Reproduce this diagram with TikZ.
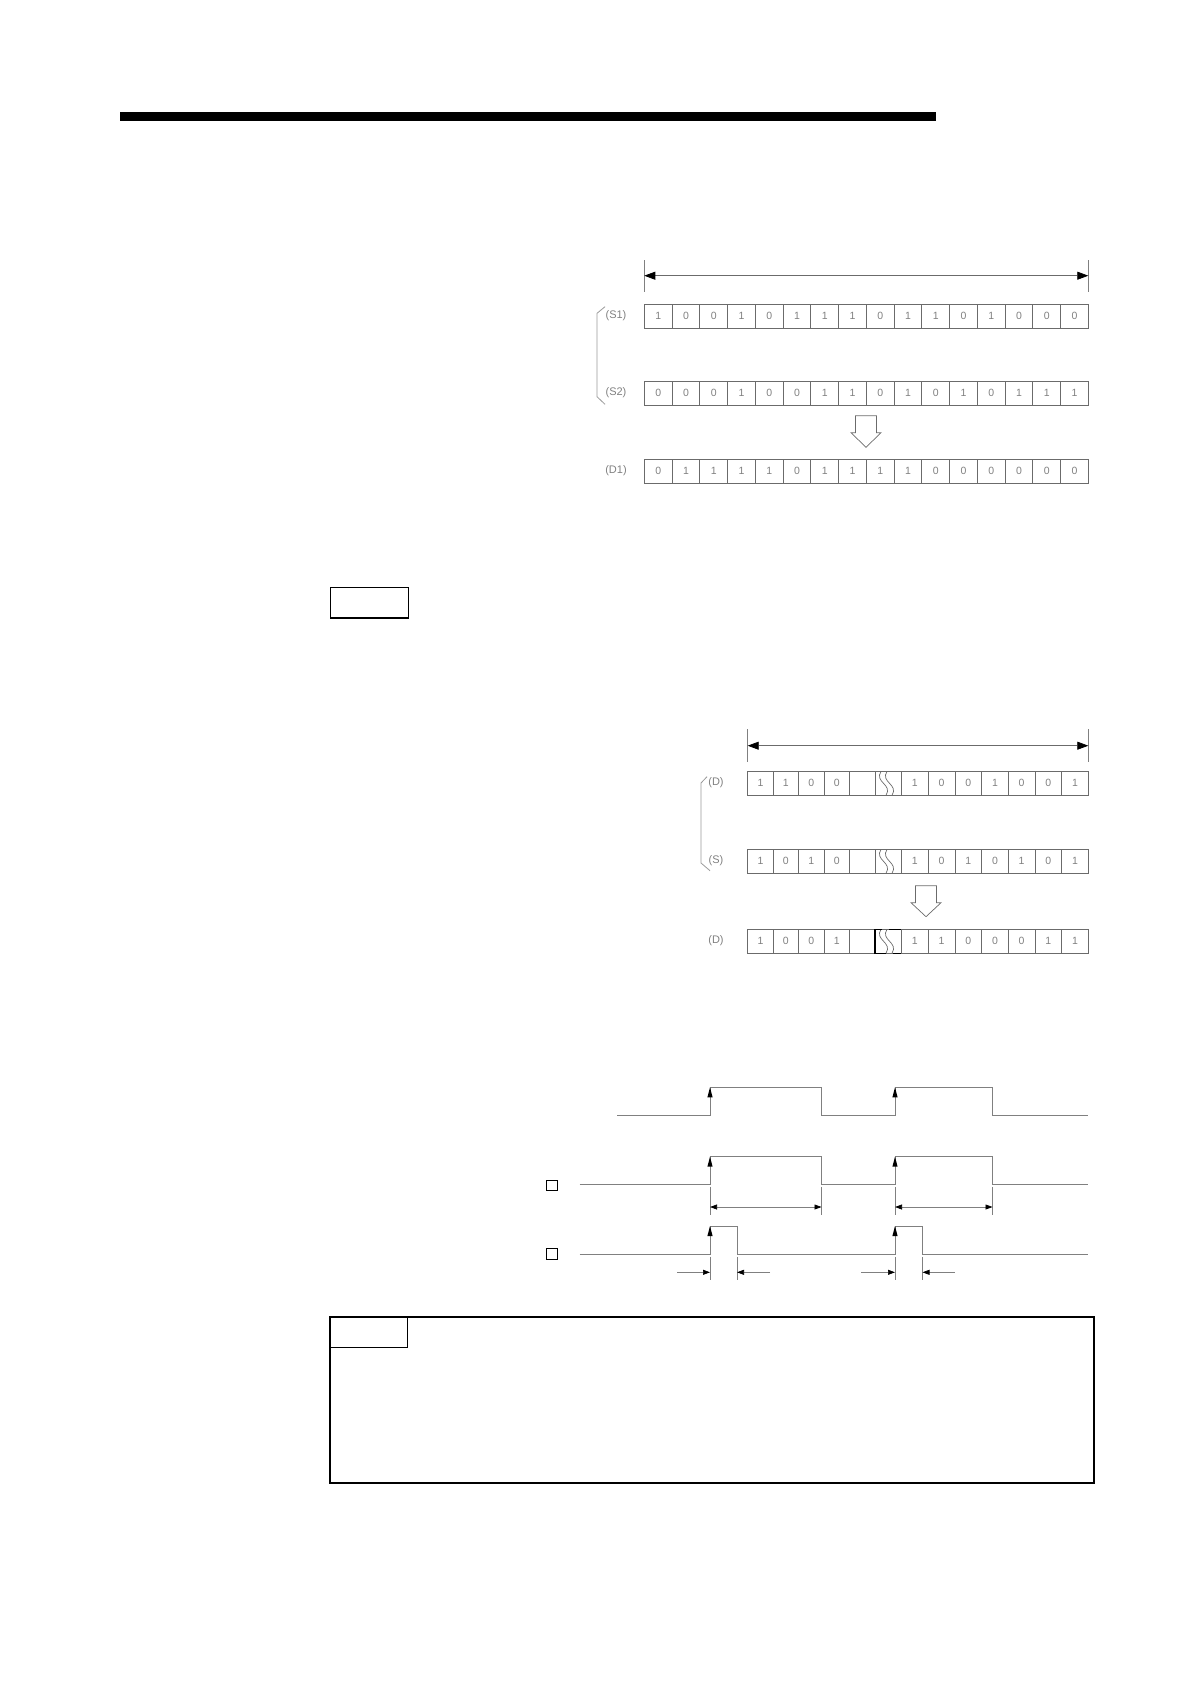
\documentclass[tikz,border=0pt]{standalone}
\usepackage{fontspec}
\setmainfont{Liberation Sans}
\usetikzlibrary{arrows.meta}
\definecolor{cellgray}{gray}{0.42}
\definecolor{txtgray}{gray}{0.5}
\definecolor{brgray}{gray}{0.6}
\definecolor{wavegray}{gray}{0.5}
\newcommand\brkwave[3]{%
  \draw[cellgray, line width=0.7pt] (#1+6,#2) .. controls (#1-1,#2+11) and (#1+18,#3-11) .. (#1+11,#3);
  \draw[cellgray, line width=0.7pt] (#1+12,#2) .. controls (#1+5,#2+11) and (#1+24,#3-11) .. (#1+17,#3);}
\begin{document}
\begin{tikzpicture}[x=1pt,y=-1pt,
  cellbox/.style={draw=cellgray, line width=0.7pt, minimum height=24pt, inner sep=0pt,
    font=\fontsize{10.5}{10.5}\selectfont, text=txtgray},
  rowlabel/.style={font=\fontsize{11}{11}\selectfont, text=txtgray, inner sep=0pt},
  bigdim/.style={line width=0.7pt, cellgray,
    {Triangle[length=11pt,width=8pt,black]}-{Triangle[length=11pt,width=8pt,black]}},
  smalldim/.style={line width=0.7pt, wavegray,
    {Triangle[length=7pt,width=5pt,black]}-{Triangle[length=7pt,width=5pt,black]}},
  onedim/.style={line width=0.7pt, wavegray, -{Triangle[length=7pt,width=5pt,black]}},
  tickline/.style={line width=0.7pt, wavegray},
  wave/.style={line width=0.9pt, wavegray},
  bracketline/.style={line width=0.8pt, brgray},
  hollowarrow/.style={line width=0.7pt, cellgray},
  framebox/.style={draw=black, inner sep=0pt},
]
\useasboundingbox (0,0) rectangle (1190,1684);
% top bar
\fill[black] (120,112) rectangle (936,121);

% ===== first diagram =====
\coordinate (a1l) at (644.3,275.7);
\coordinate (a1r) at (1088.3,275.7);
\draw[tickline] (644.3,260) -- (644.3,291.7);
\draw[tickline] (1088.3,260) -- (1088.3,291.7);
\draw[bigdim] (a1l) -- (a1r);

\foreach \v [count=\i from 0] in {1,0,0,1,0,1,1,1,0,1,1,0,1,0,0,0}
  \node[cellbox, minimum width=27.75pt] (sa-\i) at ({644.3+27.75*\i+13.875},316.3) {\v};
\foreach \v [count=\i from 0] in {0,0,0,1,0,0,1,1,0,1,0,1,0,1,1,1}
  \node[cellbox, minimum width=27.75pt] (sb-\i) at ({644.3+27.75*\i+13.875},393.2) {\v};
\foreach \v [count=\i from 0] in {0,1,1,1,1,0,1,1,1,1,0,0,0,0,0,0}
  \node[cellbox, minimum width=27.75pt] (da-\i) at ({644.3+27.75*\i+13.875},471.2) {\v};

\node[rowlabel] (ls1) at (616,315.5) {(S1)};
\node[rowlabel] (ls2) at (616,392.5) {(S2)};
\node[rowlabel] (ld1) at (616,470.5) {(D1)};
\draw[bracketline] (605,306.7) -- (597,313.3) -- (597,396.7) -- (605,404.3);

\draw[hollowarrow] (855.5,415.7) -- (876.5,415.7) -- (876.5,432.7) -- (881,432.7)
  -- (866,447.3) -- (851,432.7) -- (855.5,432.7) -- cycle;

% ===== header box =====
\node[framebox, line width=1.2pt, minimum width=77.6pt, minimum height=30.7pt] (hdr) at (369.5,602.6) {};

% ===== second diagram =====
\coordinate (a2l) at (747.7,745.7);
\coordinate (a2r) at (1088.3,745.7);
\draw[tickline] (747.7,729.3) -- (747.7,761.7);
\draw[tickline] (1088.3,729.3) -- (1088.3,761.7);
\draw[bigdim] (a2l) -- (a2r);

% row D
\foreach \v [count=\i from 0] in {1,1,0,0,{}}
  \node[cellbox, minimum width=25.46pt] (db-\i) at ({747.7+25.46*\i+12.73},783.3) {\v};
\node[cellbox, minimum width=26.5pt] (dbrk) at (888.25,783.3) {};
\brkwave{875}{771.3}{795.3}
\foreach \v [count=\i from 0] in {1,0,0,1,0,0,1}
  \node[cellbox, minimum width=26.69pt] (dc-\i) at ({901.5+26.69*\i+13.345},783.3) {\v};
% row S
\foreach \v [count=\i from 0] in {1,0,1,0,{}}
  \node[cellbox, minimum width=25.46pt] (sc-\i) at ({747.7+25.46*\i+12.73},861.3) {\v};
\node[cellbox, minimum width=26.5pt] (sbrk) at (888.25,861.3) {};
\brkwave{875}{849.3}{873.3}
\foreach \v [count=\i from 0] in {1,0,1,0,1,0,1}
  \node[cellbox, minimum width=26.69pt] (sd-\i) at ({901.5+26.69*\i+13.345},861.3) {\v};
% row D result
\foreach \v [count=\i from 0] in {1,0,0,1,{}}
  \node[cellbox, minimum width=25.46pt] (de-\i) at ({747.7+25.46*\i+12.73},941.2) {\v};
\node[cellbox, minimum width=26.5pt] (debrk) at (888.25,941.2) {};
\brkwave{875}{929.2}{953.2}
\draw[black, line width=1.1pt] (882,929.2) -- (875,929.2) -- (875,953.2) -- (886,953.2);
\draw[black, line width=1.1pt] (889,929.2) -- (901.5,929.2) -- (901.5,953.2) -- (893,953.2);
\foreach \v [count=\i from 0] in {1,1,0,0,0,1,1}
  \node[cellbox, minimum width=26.69pt] (df-\i) at ({901.5+26.69*\i+13.345},941.2) {\v};

\node[rowlabel] (ld) at (716,782.5) {(D)};
\node[rowlabel] (ls) at (716,860.5) {(S)};
\node[rowlabel] (ldr) at (716,940.5) {(D)};
\draw[bracketline] (707,776.7) -- (701,783) -- (701,863) -- (710,870.7);

\draw[hollowarrow] (915.5,885.7) -- (936.5,885.7) -- (936.5,902.7) -- (941,902.7)
  -- (926,916.7) -- (911,902.7) -- (915.5,902.7) -- cycle;

% ===== timing chart =====
% waveform 1
\draw[wave] (617,1115) -- (710,1115) -- (710,1087.3) -- (821.5,1087.3) -- (821.5,1115)
  -- (895,1115) -- (895,1087.3) -- (992.5,1087.3) -- (992.5,1115) -- (1088,1115);
% waveform 2
\draw[wave] (579.5,1184.3) -- (710,1184.3) -- (710,1156.7) -- (821.5,1156.7) -- (821.5,1184.3)
  -- (895,1184.3) -- (895,1156.7) -- (992.5,1156.7) -- (992.5,1184.3) -- (1088,1184.3);
% waveform 3
\draw[wave] (579.5,1254) -- (710,1254) -- (710,1226) -- (737,1226) -- (737,1254)
  -- (895,1254) -- (895,1226) -- (922.5,1226) -- (922.5,1254) -- (1088,1254);
% rising edge tips
\foreach \xx/\yy in {710/1087.3, 895/1087.3, 710/1156.7, 895/1156.7, 710/1226, 895/1226}
  \fill[black] (\xx,\yy) -- (\xx-2.6,\yy+10) -- (\xx+2.6,\yy+10) -- cycle;

% squares
\node[framebox, line width=1.1pt, minimum width=11pt, minimum height=10.5pt] (sq1) at (551.8,1185.6) {};
\node[framebox, line width=1.1pt, minimum width=11pt, minimum height=11pt] (sq2) at (551.8,1254.2) {};

% dims waveform 2
\draw[tickline] (710,1186.7) -- (710,1215);
\draw[tickline] (821.5,1186.7) -- (821.5,1215);
\draw[tickline] (895,1186.7) -- (895,1215);
\draw[tickline] (992.5,1186.7) -- (992.5,1215);
\coordinate (d2a) at (710,1207);
\coordinate (d2b) at (821.5,1207);
\coordinate (d2c) at (895,1207);
\coordinate (d2d) at (992.5,1207);
\draw[smalldim] (d2a) -- (d2b);
\draw[smalldim] (d2c) -- (d2d);

% dims waveform 3
\draw[tickline] (710,1256.7) -- (710,1280);
\draw[tickline] (737,1256.7) -- (737,1280);
\draw[tickline] (895,1256.7) -- (895,1280);
\draw[tickline] (922.5,1256.7) -- (922.5,1280);
\coordinate (e1) at (677,1272.3);
\coordinate (e2) at (710,1272.3);
\coordinate (e3) at (770,1272.3);
\coordinate (e4) at (737,1272.3);
\coordinate (e5) at (861,1272.3);
\coordinate (e6) at (895,1272.3);
\coordinate (e7) at (954.5,1272.3);
\coordinate (e8) at (922.5,1272.3);
\draw[onedim] (e1) -- (e2);
\draw[onedim] (e3) -- (e4);
\draw[onedim] (e5) -- (e6);
\draw[onedim] (e7) -- (e8);

% ===== note box =====
\node[framebox, line width=2pt, minimum width=764pt, minimum height=166.5pt] (note) at (712,1400) {};
\node[framebox, line width=1.1pt, minimum width=76.5pt, minimum height=30.5pt, anchor=north west] (notehdr) at (330,1316.7) {};
\end{tikzpicture}
\end{document}
